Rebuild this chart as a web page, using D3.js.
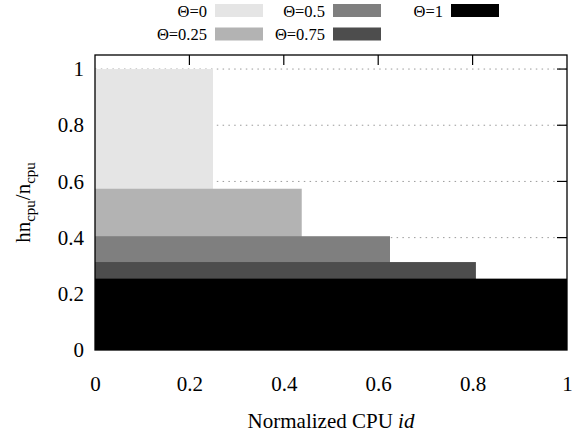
<!DOCTYPE html>
<html>
<head>
<meta charset="utf-8">
<script src="https://cdn.jsdelivr.net/npm/d3@7/dist/d3.min.js"></script>
<style>
  html, body { margin: 0; padding: 0; background: #fff; }
  svg { display: block; }
</style>
</head>
<body>
<svg id="chart" width="574" height="437"></svg>
<script>
// ---- data ----
const thetas = ["0", "0.25", "0.5", "0.75", "1"];
const xEnd   = [0.25, 0.438, 0.625, 0.807, 1.0];
const yTop   = [1.0, 0.574, 0.405, 0.313, 0.254];
const colors = ["#e5e5e5", "#b3b3b3", "#7f7f7f", "#4d4d4d", "#000000"];
const xTicks = [0, 0.2, 0.4, 0.6, 0.8, 1];
const yTicks = [0, 0.2, 0.4, 0.6, 0.8, 1];

// ---- layout ----
const W = 574, H = 437;
const m = { left: 95, right: 7, top: 55, bottom: 87 };
const FONT = "font-family:'Liberation Serif','Times New Roman',serif";
const svg = d3.select("#chart");

const x = d3.scaleLinear().domain([0, 1]).range([m.left, W - m.right]);
const y = d3.scaleLinear().domain([0, 1.05]).range([H - m.bottom, m.top]);

// grid (horizontal dotted)
svg.append("g").selectAll("line").data(yTicks.filter(d => d > 0)).join("line")
  .attr("x1", x(0)).attr("x2", x(1))
  .attr("y1", d => y(d)).attr("y2", d => y(d))
  .attr("stroke", "#9a9a9a").attr("stroke-width", 1)
  .attr("stroke-dasharray", "1.5,4.3");

// mirrored ticks (inward) top & right
const tickLen = 10;
svg.append("g").selectAll("line").data(xTicks.slice(1, -1)).join("line")
  .attr("x1", d => x(d)).attr("x2", d => x(d))
  .attr("y1", y(1.05)).attr("y2", y(1.05) + tickLen)
  .attr("stroke", "#000").attr("stroke-width", 1.2);
svg.append("g").selectAll("line").data(yTicks.slice(1)).join("line")
  .attr("x1", x(1)).attr("x2", x(1) - tickLen)
  .attr("y1", d => y(d)).attr("y2", d => y(d))
  .attr("stroke", "#000").attr("stroke-width", 1.2);

// filled regions
const series = thetas.map((t, i) => ({ t, xe: xEnd[i], yt: yTop[i], c: colors[i] }));
svg.append("g").selectAll("rect").data(series).join("rect")
  .attr("x", x(0))
  .attr("y", d => y(d.yt))
  .attr("width", d => x(d.xe) - x(0))
  .attr("height", d => y(0) - y(d.yt))
  .attr("fill", d => d.c);

// border
svg.append("rect")
  .attr("x", x(0)).attr("y", y(1.05))
  .attr("width", x(1) - x(0)).attr("height", y(0) - y(1.05))
  .attr("fill", "none").attr("stroke", "#000").attr("stroke-width", 1.3);

// axes (labels via d3 axes)
const xAxis = d3.axisBottom(x).tickValues(xTicks).tickFormat(d3.format("~g")).tickSize(0).tickPadding(26);
const gx = svg.append("g").attr("transform", `translate(0,${y(0)})`).call(xAxis);
gx.select(".domain").remove();
gx.attr("font-family", null).attr("font-size", null);
gx.selectAll("text").attr("style", FONT + ";font-size:21px").attr("fill", "#000");

const yAxis = d3.axisLeft(y).tickValues(yTicks).tickFormat(d3.format("~g")).tickSize(0).tickPadding(11);
const gy = svg.append("g").attr("transform", `translate(${x(0)},0)`).call(yAxis);
gy.select(".domain").remove();
gy.attr("font-family", null).attr("font-size", null);
gy.selectAll("text").attr("style", FONT + ";font-size:21px").attr("fill", "#000");

// x title
const xt = svg.append("text").attr("x", (x(0) + x(1)) / 2).attr("y", 428)
  .attr("text-anchor", "middle").attr("style", FONT + ";font-size:21px");
xt.append("tspan").text("Normalized CPU ");
xt.append("tspan").attr("font-style", "italic").text("id");

// y title
const yt = svg.append("text")
  .attr("transform", `translate(30,${(y(0) + y(1.05)) / 2}) rotate(-90)`)
  .attr("text-anchor", "middle").attr("style", FONT + ";font-size:21px");
yt.append("tspan").text("hn");
yt.append("tspan").attr("style", "font-size:15px").attr("dy", 5).text("cpu");
yt.append("tspan").attr("dy", -5).text("/n");
yt.append("tspan").attr("style", "font-size:15px").attr("dy", 5).text("cpu");

// legend (column-major, 2 rows)
const legX0 = 207, colStep = 118, rowY = [10.5, 34];
const leg = svg.append("g").selectAll("g").data(series).join("g")
  .attr("transform", (d, i) => `translate(${legX0 + Math.floor(i / 2) * colStep},${rowY[i % 2]})`);
leg.append("rect").attr("x", 8).attr("y", -6.5).attr("width", 48).attr("height", 13)
  .attr("fill", d => d.c);
leg.append("text").attr("x", 0).attr("y", 6).attr("text-anchor", "end")
  .attr("style", FONT + ";font-size:16.5px")
  .text(d => "Θ=" + d.t);
</script>
</body>
</html>
